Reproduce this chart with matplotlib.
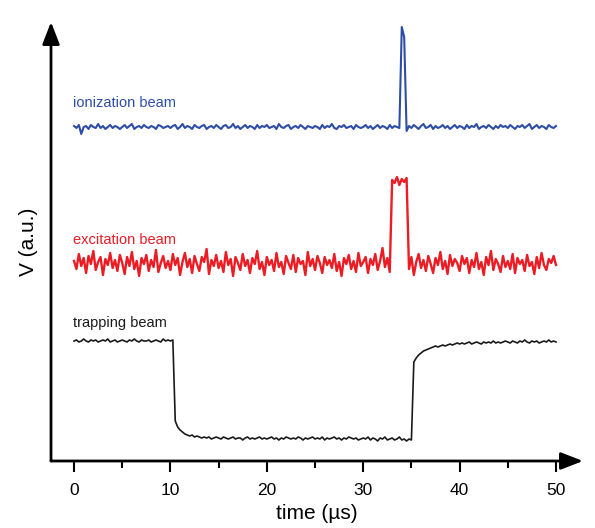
import numpy as np
import matplotlib
matplotlib.use('Agg')
import matplotlib.pyplot as plt

plt.rcParams['font.family'] = ['Liberation Sans', 'DejaVu Sans']

## Sampling grid of the scope traces (us)
t_us = np.arange(0, 50.001, 0.25)

## Traces (a.u., 0 = time axis)
ionization = [
    335, 333, 336, 327, 334, 335, 332, 336, 334, 333, 337, 333, 335, 332, 334, 336, 333, 335, 334, 332,
    334, 336, 333, 335, 337, 332, 334, 335, 333, 336, 334, 333, 335, 334, 332, 336, 335, 333, 334, 335,
    333, 335, 336, 332, 334, 337, 333, 335, 334, 332, 336, 334, 333, 335, 336, 332, 334, 335, 333, 336,
    334, 332, 335, 336, 333, 334, 337, 333, 335, 332, 334, 336, 333, 335, 334, 332, 336, 333, 335, 334,
    336, 333, 334, 335, 332, 337, 334, 333, 335, 336, 332, 334, 335, 333, 336, 334, 332, 335, 334, 333,
    335, 334, 332, 336, 333, 335, 334, 337, 333, 332, 335, 334, 336, 333, 334, 335, 332, 336, 334, 333,
    334, 336, 333, 335, 332, 334, 336, 333, 335, 334, 332, 336, 333, 335, 334, 333, 434, 424, 330, 335,
    333, 336, 334, 332, 335, 337, 333, 334, 336, 332, 335, 333, 334, 336, 333, 335, 332, 334, 336, 333,
    335, 334, 332, 336, 333, 335, 334, 337, 332, 334, 335, 333, 336, 334, 332, 335, 333, 336, 334, 335,
    333, 336, 334, 332, 335, 334, 336, 333, 335, 337, 332, 334, 336, 333, 335, 334, 332, 336, 334, 333,
    335]

excitation = [
    200, 192, 207, 195, 203, 188, 205, 197, 210, 191, 199, 204, 186, 202, 196, 208, 193, 201, 190, 206,
    198, 187, 204, 195, 209, 192, 200, 185, 203, 197, 206, 190, 201, 194, 211, 189, 198, 205, 193, 200,
    191, 207, 196, 203, 186, 199, 208, 194, 202, 188, 205, 197, 190, 204, 199, 212, 187, 201, 195, 206,
    193, 200, 189, 209, 196, 202, 185, 204, 198, 191, 207, 195, 201, 188, 203, 197, 210, 192, 199, 186,
    204, 196, 201, 190, 208, 194, 199, 187, 205, 198, 192, 206, 189, 203, 197, 200, 186, 209, 195, 202,
    191, 205, 198, 188, 204, 196, 201, 193, 207, 190, 199, 185, 203, 197, 206, 192, 200, 189, 208, 195,
    199, 204, 188, 202, 196, 207, 191, 200, 213, 194, 203, 189, 281, 278, 284, 276, 282, 279, 283, 192,
    204, 186, 199, 207, 193, 201, 190, 205, 197, 188, 203, 196, 209, 192, 200, 187, 206, 195, 202, 198,
    190, 205, 197, 203, 188, 201, 194, 208, 192, 199, 186, 204, 196, 210, 191, 202, 197, 189, 205, 194,
    200, 192, 207, 188, 203, 197, 201, 190, 206, 195, 199, 187, 204, 193, 208, 196, 191, 202, 198, 205,
    196]

trapping = [
    120, 121, 119, 120, 122, 120, 119, 121, 120, 121, 119, 120, 121, 120, 122, 119, 120, 121, 119, 120,
    121, 120, 119, 121, 120, 122, 120, 119, 121, 120, 120, 121, 119, 120, 121, 120, 119, 122, 120, 121,
    120, 121, 40, 34, 31, 29, 27, 26, 25, 26, 24, 25, 24, 23, 24, 23, 24, 22, 23, 24,
    23, 22, 24, 23, 22, 23, 24, 22, 23, 23, 21, 23, 24, 22, 23, 22, 23, 24, 22, 23,
    22, 23, 24, 22, 23, 21, 23, 22, 24, 23, 22, 23, 22, 24, 23, 21, 23, 22, 23, 24,
    22, 23, 22, 24, 21, 23, 22, 23, 24, 22, 23, 21, 23, 22, 24, 23, 22, 23, 21, 22,
    23, 22, 24, 21, 23, 22, 20, 23, 22, 24, 21, 22, 23, 21, 22, 24, 21, 22, 20, 22,
    21, 99, 103, 106, 108, 110, 111, 112, 113, 114, 115, 114, 115, 116, 115, 116, 117, 116, 117, 118,
    117, 118, 117, 118, 119, 117, 118, 119, 118, 117, 119, 118, 119, 118, 120, 118, 119, 118, 119, 120,
    119, 118, 120, 119, 118, 120, 119, 121, 119, 118, 120, 119, 120, 118, 119, 120, 119, 121, 119, 120,
    119]

trace_names = ['ionization beam', 'excitation beam', 'trapping beam']
trace_colors = ['#2e4ea6', '#ec1c24', '#1a1a1a']
trace_widths = [1.5, 1.7, 1.2]
label_heights = [358, 221, 138]

x_ticks = [0, 10, 20, 30, 40, 50]
x_minor = [5, 15, 25, 35, 45]

fig = plt.figure(figsize=(5.95, 5.28), dpi=100)
ax = fig.add_axes([51 / 595, 67 / 528, 532 / 595, 439 / 528])

for y, c, w in zip([ionization, excitation, trapping], trace_colors, trace_widths):
    ax.plot(t_us, y, color=c, lw=w)

for name, c, h in zip(trace_names, trace_colors, label_heights):
    ax.text(-0.1, h, name, color=c, fontsize=10.5, ha='left', va='center')

ax.set_xlim(-2.39, 52.8)
ax.set_ylim(0, 439)

## axes drawn as arrows
for s in ['top', 'right', 'left', 'bottom']:
    ax.spines[s].set_visible(False)
arrow = dict(arrowstyle='-|>,head_length=0.9,head_width=0.35', color='black', lw=2,
             shrinkA=0, shrinkB=0, mutation_scale=15)
ax.annotate('', xy=(1, 0), xytext=(0, 0), xycoords='axes fraction', arrowprops=arrow)
ax.annotate('', xy=(0, 1), xytext=(0, 0), xycoords='axes fraction', arrowprops=arrow)

ax.set_xticks(x_ticks)
ax.set_xticks(x_minor, minor=True)
ax.set_xticklabels([str(v) for v in x_ticks])
ax.tick_params(axis='x', which='major', direction='out', length=8, width=1.5, labelsize=12.5, pad=8)
ax.tick_params(axis='x', which='minor', direction='out', length=5, width=1.5)
ax.set_yticks([])

ax.set_xlabel('time (\u00b5s)', fontsize=15, labelpad=4)
ax.set_ylabel('V (a.u.)', fontsize=15, labelpad=9)

fig.savefig('out.png', dpi=100)
